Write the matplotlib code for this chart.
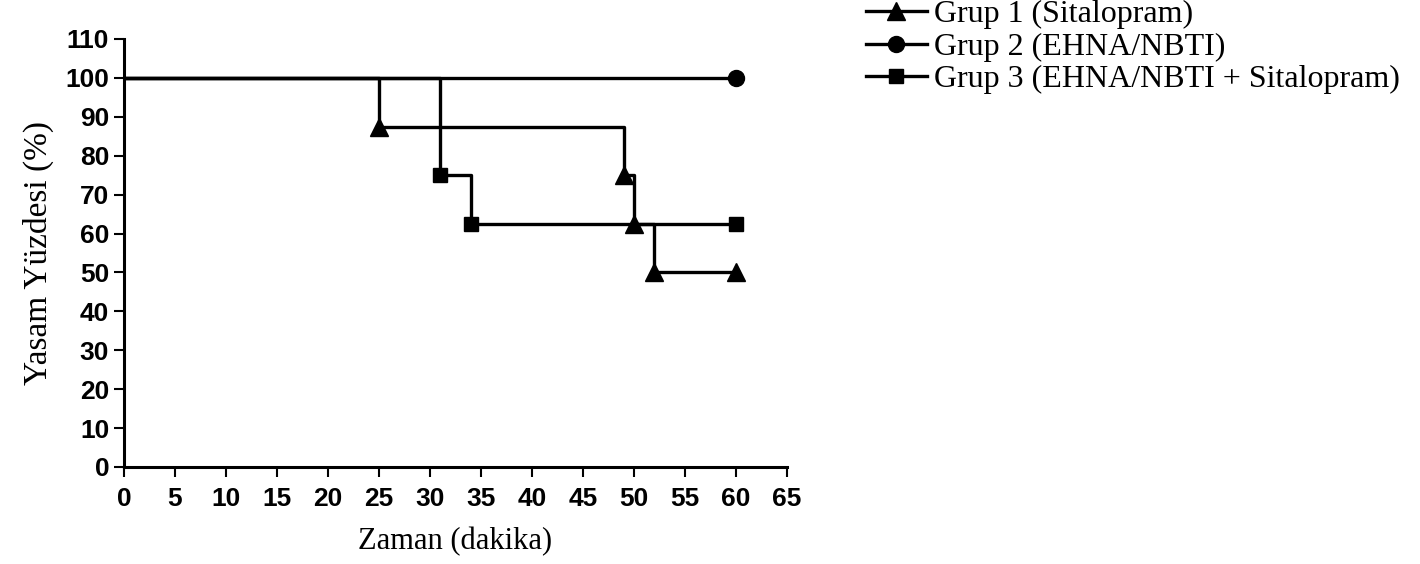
import matplotlib
matplotlib.use("Agg")
import matplotlib.pyplot as plt

# Data
g1_time = [0, 25, 49, 50, 52, 60]
g1_surv = [100, 87.5, 75, 62.5, 50, 50]
g2_time = [0, 60]
g2_surv = [100, 100]
g3_time = [0, 31, 34, 60]
g3_surv = [100, 75, 62.5, 62.5]
labels = ["Grup 1 (Sitalopram)", "Grup 2 (EHNA/NBTI)", "Grup 3 (EHNA/NBTI + Sitalopram)"]
xticks = list(range(0, 66, 5))
yticks = list(range(0, 111, 10))

fig = plt.figure(figsize=(14.2, 5.64), dpi=100)
ax = fig.add_axes([124/1420, 1-467/564, (787-124)/1420, (467-39)/564])

lw = 2.4
h1, = ax.plot(g1_time, g1_surv, drawstyle='steps-post', color='black', lw=lw,
              marker='^', markersize=12.5, markevery=slice(1, None), label=labels[0])
h2, = ax.plot(g2_time, g2_surv, drawstyle='steps-post', color='black', lw=lw,
              marker='o', markersize=11.5, markevery=slice(1, None), label=labels[1])
h3, = ax.plot(g3_time, g3_surv, drawstyle='steps-post', color='black', lw=lw,
              marker='s', markersize=9.5, markevery=slice(1, None), label=labels[2])

ax.set_xlim(0, 65)
ax.set_ylim(0, 110)
ax.set_xticks(xticks)
ax.set_yticks(yticks)
ax.spines['top'].set_visible(False)
ax.spines['right'].set_visible(False)
for s in ['left', 'bottom']:
    ax.spines[s].set_linewidth(2.2)
ax.tick_params(direction='out', length=7.2, width=1.5)
ax.tick_params(axis='x', pad=7)
ax.tick_params(axis='y', pad=3.5)
for lab in ax.get_xticklabels() + ax.get_yticklabels():
    lab.set_fontfamily('Liberation Sans')
    lab.set_fontweight('bold')
    lab.set_fontsize(19)

ax.set_xlabel("Zaman (dakika)", fontfamily='Liberation Serif', fontsize=22, labelpad=12)
ax.set_ylabel("Yasam Yüzdesi (%)", fontfamily='Liberation Serif', fontsize=24, labelpad=8)

fig.legend(handles=[h1, h2, h3], loc='upper left', bbox_to_anchor=(866/1420, 1.0),
           frameon=False, prop={'family': 'Liberation Serif', 'size': 23},
           handlelength=1.9, handletextpad=0.23, labelspacing=0.1,
           borderpad=0, borderaxespad=0)

fig.savefig("out.png", dpi=100)
